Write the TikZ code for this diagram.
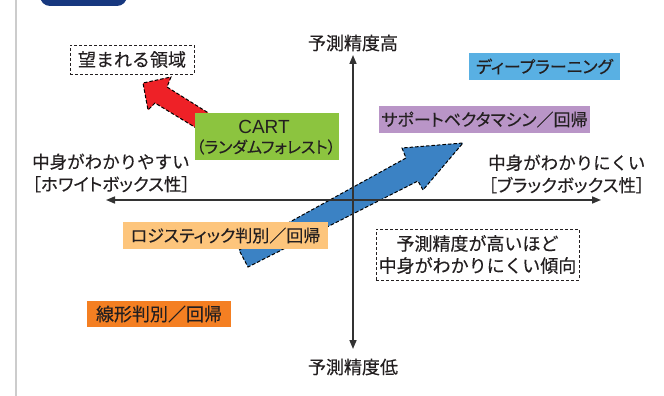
\documentclass[tikz,border=0pt]{standalone}
\usepackage{fontspec}
\setmainfont{Noto Sans CJK JP}[FakeBold=0.25]
\newfontfamily\jpprop{Noto Sans CJK JP}[RawFeature=+palt, FakeBold=0.25]
\newfontfamily\latinsf{Liberation Sans}
\usetikzlibrary{arrows.meta}
\definecolor{txt}{HTML}{231F20}
\definecolor{navy}{HTML}{17387F}
\definecolor{dlblue}{HTML}{59B0E3}
\definecolor{svmpurple}{HTML}{B995C7}
\definecolor{cartgreen}{HTML}{8CC43F}
\definecolor{logorange}{HTML}{FDC57C}
\definecolor{linorange}{HTML}{F47F22}
\definecolor{redarrow}{HTML}{EE2127}
\definecolor{bluearrow}{HTML}{3B82C4}
\definecolor{axisgray}{HTML}{333333}
\tikzset{
  lbl/.style={text=txt, font=\fontsize{18}{22}\selectfont, inner sep=0pt},
  side/.style={lbl, font=\fontsize{17.5}{22.5}\selectfont, anchor=west, align=left},
  kana/.style={font=\jpprop\fontsize{17}{22}\selectfont},
  fillbox/.style={lbl, minimum height=27pt, inner sep=0pt},
  dashbox/.style={lbl, draw=txt, line width=0.8pt, dash pattern=on 3pt off 2pt},
  axisline/.style={draw=axisgray, line width=1.6pt, -{Triangle[length=9pt,width=7pt]}},
  bigarrow/.style={draw=black, line width=1pt, dash pattern=on 3.5pt off 2pt, line join=miter}
}
\begin{document}
\begin{tikzpicture}[x=1pt,y=-1pt]
\useasboundingbox (0,0) rectangle (664,396);
% frame elements
\draw[color=black!20, line width=2pt] (16,0) -- (16,396);
\fill[navy, rounded corners=10pt] (40,-20) rectangle (127,6);

% blue arrow (behind axes)
\filldraw[fill=bluearrow, bigarrow]
  (239,250) -- (406,158) -- (402,148) -- (463,143) -- (423,190) -- (418,181) -- (248,267) -- cycle;

% axes
\coordinate (vtop) at (353,55);
\coordinate (vbot) at (353,349);
\coordinate (hl) at (106,200);
\coordinate (hr) at (601,200);
\coordinate (o) at (353,200);
\draw[axisline] (o) -- (vtop);
\draw[axisline] (o) -- (vbot);
\draw[axisline] (o) -- (hl);
\draw[axisline] (o) -- (hr);

\node[lbl] (top) at (353,43) {予測精度高};
\node[lbl] (bot) at (353,367) {予測精度低};
\node[side] (left) at (32,173) {中身がわかりやすい\\\jpprop［ホワイトボックス性］};
\node[side] (right) at (488,174) {中身がわかりにくい\\\jpprop［ブラックボックス性］};

% red arrow (behind CART box)
\filldraw[fill=redarrow, bigarrow]
  (226,124) -- (167,87) -- (171,77) -- (143,83) -- (148,110) -- (155,103) -- (216,140) -- cycle;

% boxes
\node[dashbox, minimum width=124pt, minimum height=29pt] (want) at (132,59.5) {望まれる領域};
\node[fillbox, kana, fill=dlblue, minimum width=151pt] (dl) at (544.5,66.5) {ディープラーニング};
\node[fillbox, kana, fill=svmpurple, minimum width=211pt] (svm) at (484.5,119.5) {サポートベクタマシン／回帰};
\node[fillbox, fill=cartgreen, minimum width=144pt, minimum height=47pt] (cart) at (267,136.5) {};
\node[lbl, font=\latinsf\fontsize{19}{20}\selectfont] (cartt) at (264,127) {CART};
\node[lbl, font=\jpprop\fontsize{16}{18}\selectfont] (cartsub) at (266,147) {（ランダムフォレスト）};
\node[fillbox, kana, fill=logorange, minimum width=205pt] (log) at (225.5,235.5) {ロジスティック判別／回帰};
\node[fillbox, fill=linorange, minimum width=144pt, minimum height=26pt] (lin) at (159,314) {線形判別／回帰};
\node[dashbox, minimum width=203pt, minimum height=51pt, align=center] (tend) at (477.5,254.5) {予測精度が高いほど\\中身がわかりにくい傾向};
\end{tikzpicture}
\end{document}
